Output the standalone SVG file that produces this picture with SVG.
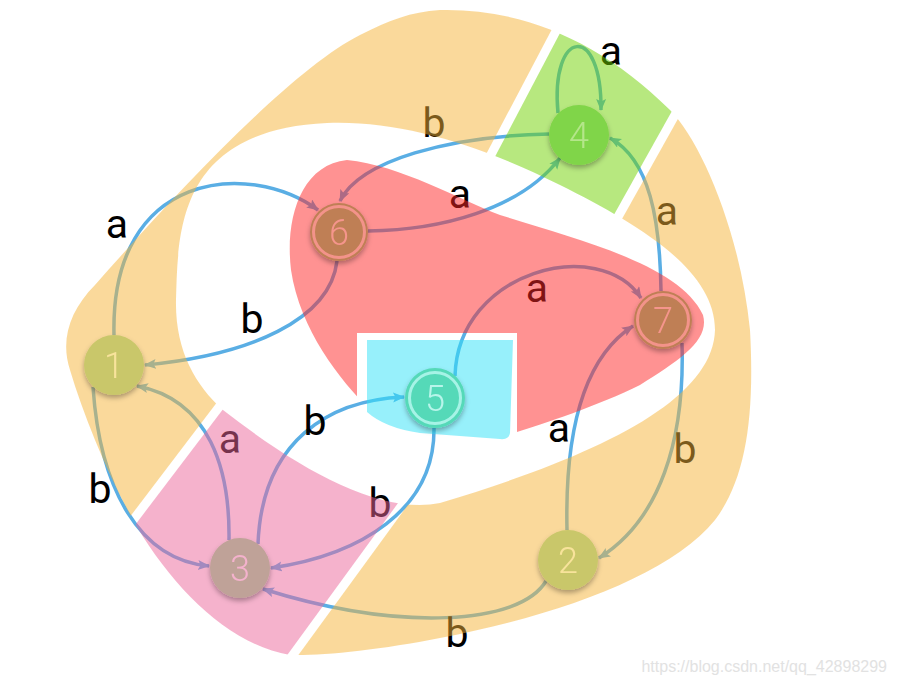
<svg xmlns="http://www.w3.org/2000/svg" width="897" height="685" viewBox="0 0 897 685">
<style>
.e{fill:none;stroke:#5aaee4;stroke-width:3.5;marker-end:url(#ar)}
.lb{font-family:Roboto,"Liberation Sans",sans-serif;font-size:41px;text-anchor:middle;fill:#000}
.dg{font-family:Roboto,"Liberation Sans",sans-serif;font-weight:300;font-size:36px;text-anchor:middle}
.ov{opacity:0.5}
</style>
<defs>
<marker id="ar" markerUnits="userSpaceOnUse" markerWidth="14" markerHeight="12" refX="11" refY="5" orient="auto">
<path d="M0,0 L12,5 L0,10 L2.5,5 Z" fill="#5aaee4"/>
</marker>
<filter id="sh" x="-30%" y="-30%" width="160%" height="170%">
<feDropShadow dx="0" dy="3" stdDeviation="2.5" flood-color="#000" flood-opacity="0.3"/>
</filter>
<clipPath id="ring">
<path clip-rule="evenodd" d="M440,10 C520,8 600,40 670,110 C700,140 740,230 750,330 C755,420 745,480 715,520 C670,575 560,615 440,638 C380,650 320,656 290,655 C230,645 175,590 137,527 C110,480 85,420 70,370 C60,340 70,310 95,285 C170,200 290,70 360,35 C390,20 410,12 440,10 Z M327,123 C178,130 178,230 176,300 C175,350 195,385 223,410 C300,470 380,515 440,503 C600,455 713,400 715,330 C715,270 640,225 560,185 C480,145 400,120 327,123 Z"/>
</clipPath>
<mask id="mOrange" maskUnits="userSpaceOnUse" x="0" y="0" width="897" height="685">
<rect width="897" height="685" fill="#fff"/>
<polygon points="110,552 245,372 424,475 271,685" fill="#000"/>
<polygon points="568,8 683,100 605,240 475,185" fill="#000"/>
<g stroke="#000" stroke-width="9">
<line x1="80" y1="590" x2="270" y2="340"/>
<line x1="260" y1="700" x2="435" y2="460"/>
<line x1="565" y1="14" x2="475" y2="185"/>
<line x1="685" y1="97" x2="600" y2="249"/>
</g>
</mask>
<mask id="mGap" maskUnits="userSpaceOnUse" x="0" y="0" width="897" height="685">
<rect width="897" height="685" fill="#fff"/>
<g stroke="#000" stroke-width="9">
<line x1="80" y1="590" x2="270" y2="340"/>
<line x1="260" y1="700" x2="435" y2="460"/>
<line x1="565" y1="14" x2="475" y2="185"/>
<line x1="685" y1="97" x2="600" y2="249"/>
</g>
</mask>
<mask id="mBox" maskUnits="userSpaceOnUse" x="0" y="0" width="897" height="685">
<rect width="897" height="685" fill="#fff"/>
<rect x="357" y="333" width="160" height="112" fill="#000"/>
</mask>
</defs>
<rect width="897" height="685" fill="#fff"/>

<g id="connectors">
<path class="e" d="M558,113 C550,28 602,22 601,110"/>
<path class="e" d="M549,134 C450,136 360,160 340,201"/>
<path class="e" d="M368,231 C440,230 520,210 560,158"/>
<path class="e" d="M114,335 C110,170 250,160 318,210"/>
<path class="e" d="M337,261 C330,320 250,355 145,365"/>
<path class="e" d="M661,291 C660,220 650,160 610,138"/>
<path class="e" d="M455,376 C458,270 600,235 641,298"/>
<path class="e" d="M567,530 C565,440 580,360 633,326"/>
<path class="e" d="M682,343 C685,440 660,520 599,558"/>
<path class="e" d="M546,581 C520,625 400,632 263,589"/>
<path class="e" d="M93,387 C100,490 140,560 209,566"/>
<path class="e" d="M229,540 C230,470 210,400 137,386"/>
<path class="e" d="M258,544 C262,440 330,400 404,397"/>
<path class="e" d="M434,428 C435,510 360,555 271,568"/>
</g>

<g id="labels">
<text class="lb" x="611" y="65">a</text>
<text class="lb" x="434" y="137">b</text>
<text class="lb" x="460" y="208">a</text>
<text class="lb" x="117" y="238">a</text>
<text class="lb" x="252" y="333">b</text>
<text class="lb" x="667" y="225">a</text>
<text class="lb" x="537" y="302">a</text>
<text class="lb" x="230" y="453">a</text>
<text class="lb" x="315" y="435">b</text>
<text class="lb" x="100" y="503">b</text>
<text class="lb" x="380" y="517">b</text>
<text class="lb" x="559" y="442">a</text>
<text class="lb" x="685" y="463">b</text>
<text class="lb" x="457" y="647">b</text>
</g>

<g id="regions">
<g class="ov" clip-path="url(#ring)">
<rect width="897" height="685" fill="#f6b438" mask="url(#mOrange)"/>
</g>
<g class="ov" clip-path="url(#ring)">
<polygon points="110,552 245,372 424,475 271,685" fill="#eb6799" mask="url(#mGap)"/>
</g>
<g class="ov" clip-path="url(#ring)">
<polygon points="568,8 683,100 605,240 475,185" fill="#71d100" mask="url(#mGap)"/>
</g>
<path class="ov" fill="#ff2828" mask="url(#mBox)" d="M347,160 C400,165 460,200 500,215 C580,240 680,265 703,315 C710,340 680,360 640,385 C600,405 540,425 517,432 L440,440 L370,410 C340,380 300,330 291,270 C285,220 300,165 347,160 Z"/>
<path class="ov" fill="#2fe1f7" d="M367,340 L513,340 L510,433 Q509,440 500,439 L420,433 Q385,428 367,412 Z"/>
</g>

<g id="node-1" filter="url(#sh)">
<circle cx="114" cy="365" r="30" fill="#c9c76a"/>
<text class="dg" x="114" y="378" fill="#f8e39b">1</text>
</g>
<g id="node-2" filter="url(#sh)">
<circle cx="568" cy="560" r="30" fill="#c9c76a"/>
<text class="dg" x="568" y="573" fill="#f8e39b">2</text>
</g>
<g id="node-3" filter="url(#sh)">
<circle cx="240" cy="568" r="30" fill="#bfa298"/>
<text class="dg" x="240" y="581" fill="#f4b2cd">3</text>
</g>
<g id="node-4" filter="url(#sh)">
<circle cx="579" cy="135" r="30" fill="#80d548"/>
<text class="dg" x="579" y="148" fill="#b4e68a">4</text>
</g>
<g id="node-5" filter="url(#sh)">
<circle cx="435" cy="398" r="30" fill="#55d9b8"/>
<circle cx="435" cy="398" r="25.5" fill="none" stroke="#a6f3e6" stroke-width="3"/>
<text class="dg" x="435" y="411" fill="#b8f5ea">5</text>
</g>
<g id="node-6" filter="url(#sh)">
<circle cx="339" cy="232" r="29" fill="#bf7f55"/>
<circle cx="339" cy="232" r="25.5" fill="none" stroke="#f3938a" stroke-width="3"/>
<text class="dg" x="339" y="245" fill="#f5958c">6</text>
</g>
<g id="node-7" filter="url(#sh)">
<circle cx="663" cy="320" r="29" fill="#bf7f55"/>
<circle cx="663" cy="320" r="25.5" fill="none" stroke="#f3938a" stroke-width="3"/>
<text class="dg" x="663" y="333" fill="#f5958c">7</text>
</g>

<text x="887" y="672" text-anchor="end" font-family="'Liberation Sans',Arial,sans-serif" font-size="16" fill="#e2e2e2">https://blog.csdn.net/qq_42898299</text>
</svg>
